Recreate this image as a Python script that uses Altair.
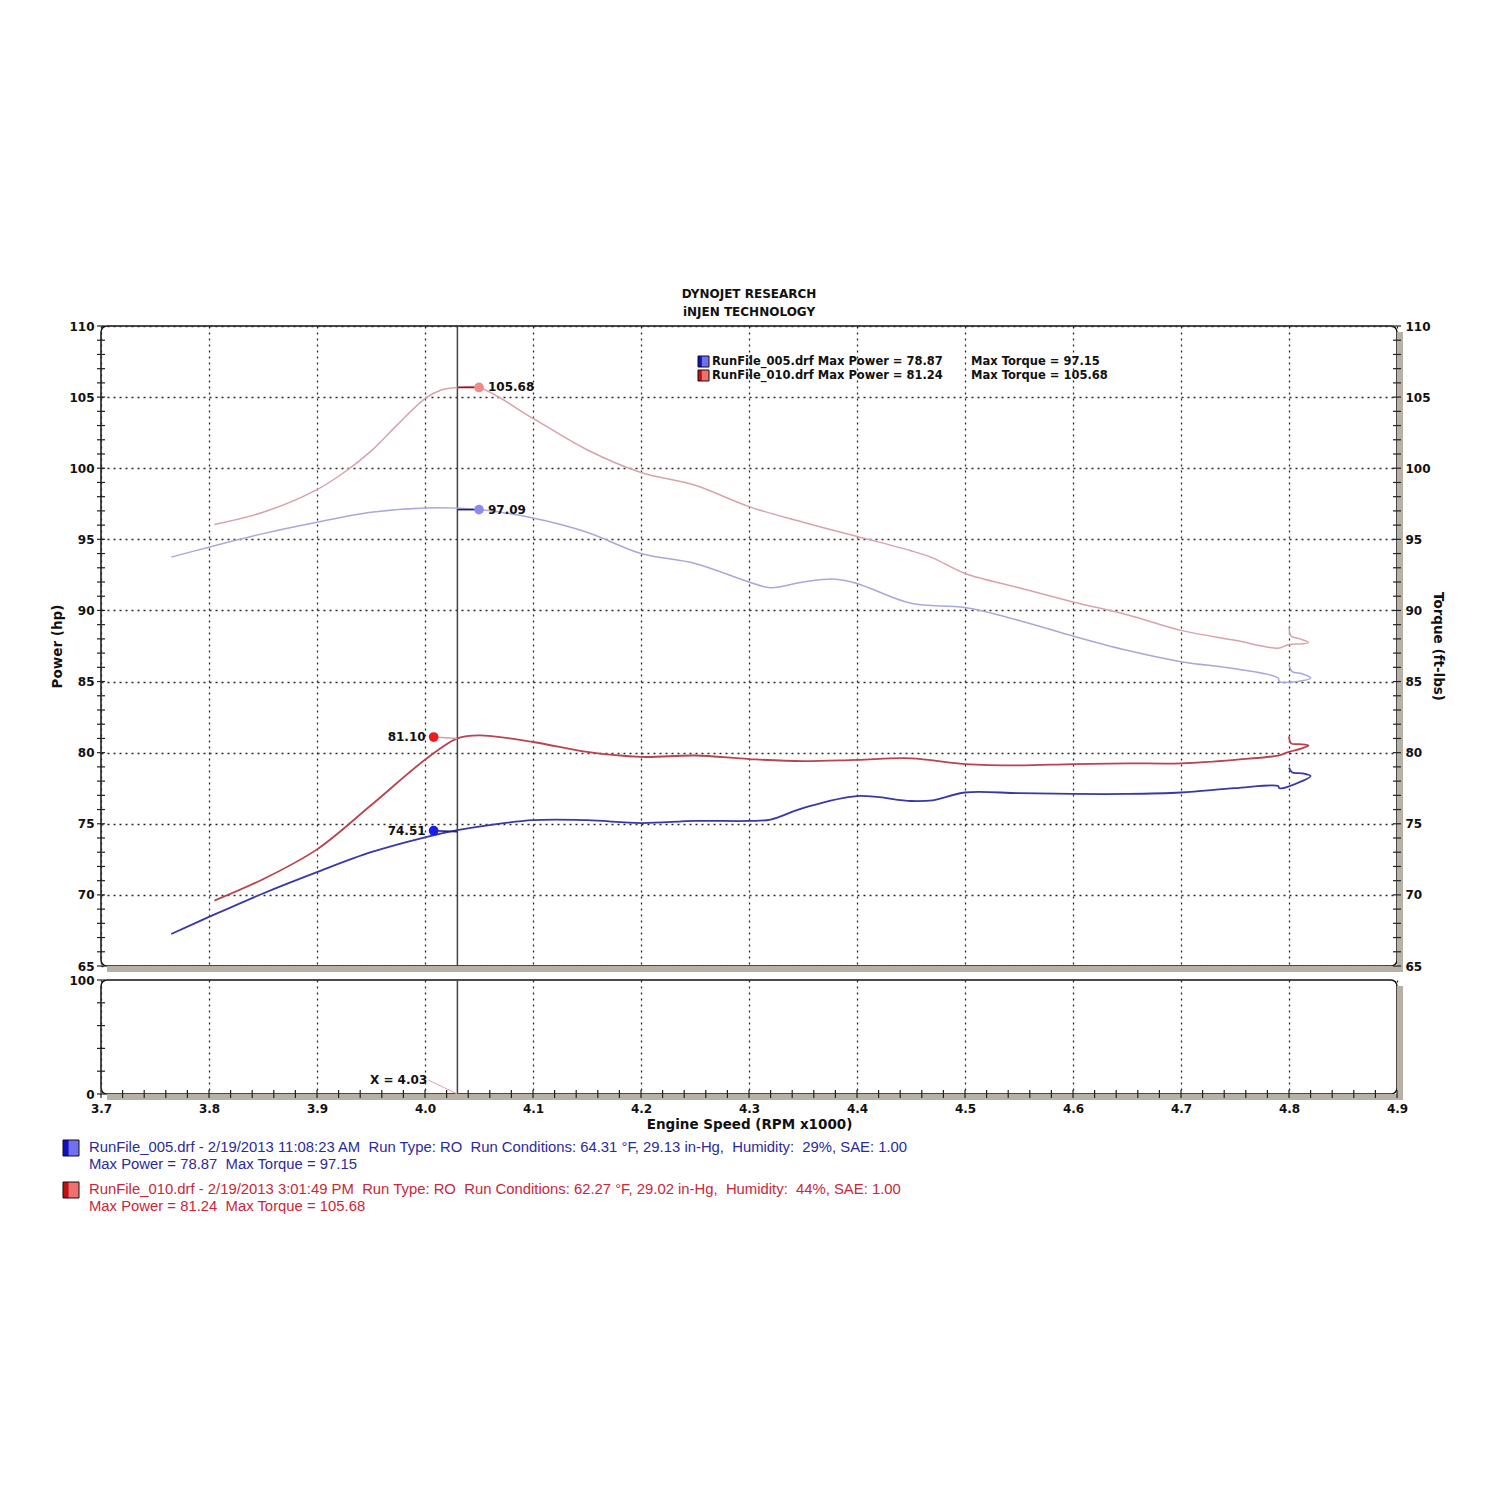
import altair as alt
import pandas as pd

# ------------------------------------------------------------------ data
# RunFile_005 (blue)
rpm_tq_005 = [3.765, 3.80, 3.85, 3.90, 3.95, 4.00, 4.05, 4.10, 4.15, 4.20, 4.25, 4.30, 4.32,
              4.35, 4.38, 4.40, 4.45, 4.50, 4.55, 4.60, 4.65, 4.70, 4.75, 4.79,
              4.791, 4.812, 4.820, 4.812, 4.803, 4.800]
tq_005 = [93.75, 94.45, 95.4, 96.2, 96.9, 97.2, 97.09, 96.5, 95.5, 94.0, 93.3, 92.0, 91.6,
          92.0, 92.2, 91.9, 90.5, 90.2, 89.3, 88.2, 87.2, 86.4, 85.9, 85.25,
          85.0, 85.05, 85.25, 85.55, 85.7, 86.2]
rpm_hp_005 = [3.765, 3.80, 3.85, 3.90, 3.95, 4.00, 4.03, 4.05, 4.10, 4.15, 4.20, 4.25, 4.30,
              4.32, 4.35, 4.40, 4.45, 4.47, 4.50, 4.55, 4.60, 4.65, 4.70, 4.75, 4.79,
              4.791, 4.812, 4.820, 4.812, 4.803, 4.800]
hp_005 = [67.25, 68.45, 70.1, 71.6, 73.0, 74.05, 74.55, 74.8, 75.25, 75.25, 75.05, 75.2, 75.2,
          75.3, 76.1, 76.95, 76.6, 76.65, 77.2, 77.15, 77.1, 77.1, 77.2, 77.5, 77.65,
          77.5, 78.0, 78.35, 78.55, 78.6, 78.95]

# RunFile_010 (red)
rpm_tq_010 = [3.805, 3.85, 3.90, 3.925, 3.95, 3.975, 4.00, 4.015, 4.03, 4.05, 4.10, 4.15, 4.20,
              4.25, 4.30, 4.35, 4.40, 4.45, 4.47, 4.50, 4.55, 4.60, 4.65, 4.70, 4.75, 4.79,
              4.800, 4.812, 4.818, 4.810, 4.802, 4.800]
tq_010 = [96.05, 96.9, 98.5, 99.7, 101.2, 103.1, 104.9, 105.5, 105.68, 105.68, 103.5, 101.3, 99.7,
          98.8, 97.3, 96.2, 95.2, 94.2, 93.7, 92.6, 91.6, 90.6, 89.7, 88.6, 87.9, 87.35,
          87.6, 87.65, 87.75, 88.0, 88.2, 88.8]
rpm_hp_010 = [3.805, 3.85, 3.90, 3.95, 4.00, 4.03, 4.05, 4.10, 4.15, 4.20, 4.25, 4.30, 4.35,
              4.40, 4.45, 4.50, 4.55, 4.60, 4.65, 4.70, 4.75, 4.79,
              4.800, 4.812, 4.818, 4.810, 4.802, 4.800]
hp_010 = [69.6, 71.1, 73.2, 76.3, 79.5, 81.0, 81.22, 80.75, 80.05, 79.7, 79.8, 79.55, 79.4,
          79.5, 79.6, 79.2, 79.1, 79.2, 79.25, 79.25, 79.5, 79.8,
          80.05, 80.3, 80.5, 80.6, 80.65, 81.15]

# cursor / peak markers
cursor_rpm = 4.03
peak_text = ["105.68", "97.09", "81.10", "74.51"]
peak_rpm = [4.05, 4.05, 4.008, 4.008]
peak_val = [105.68, 97.09, 81.10, 74.51]
seg_val_end = [105.68, 97.09, 81.0, 74.45]

# axis ticks / labels
x_major = [3.7, 3.8, 3.9, 4.0, 4.1, 4.2, 4.3, 4.4, 4.5, 4.6, 4.7, 4.8, 4.9]
x_minor = [round(3.7 + 0.02 * k, 2) for k in range(61)]
y_major = [65, 70, 75, 80, 85, 90, 95, 100, 105, 110]
y_minor = list(range(65, 111))
yb_labels = [0, 100]
yb_ticks = [0, 20, 40, 60, 80, 100]

title_lines = ["DYNOJET RESEARCH", "iNJEN TECHNOLOGY"]
legend_power = ["RunFile_005.drf Max Power = 78.87", "RunFile_010.drf Max Power = 81.24"]
legend_torque = ["Max Torque = 97.15", "Max Torque = 105.68"]
foot_005 = ["RunFile_005.drf - 2/19/2013 11:08:23 AM  Run Type: RO  Run Conditions: 64.31 \u00b0F, 29.13 in-Hg,  Humidity:  29%, SAE: 1.00",
            "Max Power = 78.87  Max Torque = 97.15"]
foot_010 = ["RunFile_010.drf - 2/19/2013 3:01:49 PM  Run Type: RO  Run Conditions: 62.27 \u00b0F, 29.02 in-Hg,  Humidity:  44%, SAE: 1.00",
            "Max Power = 81.24  Max Torque = 105.68"]
cursor_label = "X = 4.03"

# ------------------------------------------------------------------ style
W, H1, H2 = 1296, 640, 114
FONT = "DejaVu Sans"
SH = "#b7b1a5"
C_TQ_RED, C_TQ_BLUE = "#d9a2aa", "#a8a8da"
C_HP_RED, C_HP_BLUE = "#b9434f", "#3838a8"
T_BLUE, T_RED = "#2b2b9c", "#c8283a"
DOT_COLORS = ["#f28a8a", "#8a8af0", "#f01c1c", "#1c1cf0"]
SEG_COLORS = ["#9a1020", "#20206a", "#c9a3b3", "#22227a"]

one = pd.DataFrame({"k": [0]})


def keep_spaces(s):
    return s.replace("  ", "\u00a0 ")


def ldf(r, v):
    return pd.DataFrame({"rpm": r, "val": v, "i": list(range(len(r)))})


XS = alt.Scale(domain=[3.7, 4.9], nice=False, zero=False)
YS = alt.Scale(domain=[65, 110], nice=False, zero=False)
YB = alt.Scale(domain=[0, 100], nice=False, zero=False)

grid_kw = dict(grid=True, gridDash=[2, 4], gridColor="#2a2a2a", gridWidth=1.3, gridOpacity=1)

x_main = alt.X("rpm:Q", scale=XS,
               axis=alt.Axis(values=x_major, labels=False, ticks=False, domain=False, title=None, **grid_kw))
left_axis = alt.Axis(values=y_major, title="Power (hp)", titleFontSize=13.5, titlePadding=4,
                     labelFontSize=12, labelPadding=7, labelFlush=False, ticks=False, tickSize=0,
                     domain=False, **grid_kw)
right_axis = alt.Axis(orient="right", values=y_major, title="Torque (ft-lbs)", titleFontSize=13.5,
                      titlePadding=0, labelFontSize=12, labelPadding=8, labelFlush=False, ticks=False,
                      tickSize=0, domain=False, grid=False)
y_left = alt.Y("val:Q", scale=YS, axis=left_axis)
y_right = alt.Y("val:Q", scale=YS, axis=right_axis)


def txt(text, x, y, size, color="#111", align="left", weight="bold", font=FONT):
    return alt.Chart(one).mark_text(text=text, align=align, baseline="middle", fontSize=size,
                                    fontWeight=weight, font=font, color=color).encode(
        x=alt.value(x), y=alt.value(y))


def box(x, y, w, h, color, opacity=1):
    return alt.Chart(one).mark_rect(color=color, opacity=opacity).encode(
        x=alt.value(x), x2=alt.value(x + w), y=alt.value(y), y2=alt.value(y + h))


def swatch(x, y, s, dark, light):
    grad = alt.Gradient(gradient="linear", x1=0, x2=1, y1=0, y2=0,
                        stops=[alt.GradientStop(color=dark, offset=0),
                               alt.GradientStop(color=dark, offset=0.3),
                               alt.GradientStop(color=light, offset=0.4),
                               alt.GradientStop(color=light, offset=1)])
    return alt.Chart(one).mark_rect(color=grad, stroke="#111", strokeWidth=1).encode(
        x=alt.value(x), x2=alt.value(x + s), y=alt.value(y), y2=alt.value(y + s))


def curve(r, v, color, width, yenc):
    return alt.Chart(ldf(r, v)).mark_line(color=color, strokeWidth=width,
                                          interpolate="catmull-rom").encode(
        x=x_main, y=yenc, order="i:Q")


def shadow(h):
    return [box(W, 6, 6, h, SH), box(6, h, W, 6, SH)]


def peak_layers(k, yenc, side):
    d = pd.DataFrame({"rpm": [peak_rpm[k]], "val": [peak_val[k]], "t": [peak_text[k]],
                      "rpm0": [cursor_rpm], "val0": [seg_val_end[k]]})
    if side == "right":
        lab = alt.Chart(d).mark_text(align="left", baseline="middle", dx=9, fontSize=12,
                                     fontWeight="bold", font=FONT, color="#111")
    else:
        lab = alt.Chart(d).mark_text(align="right", baseline="middle", dx=-8, fontSize=12,
                                     fontWeight="bold", font=FONT, color="#111")
    return [
        alt.Chart(d).mark_rule(strokeWidth=1.6, color=SEG_COLORS[k]).encode(
            x=x_main, x2="rpm0:Q", y=yenc, y2="val0:Q"),
        alt.Chart(d).mark_circle(size=95, opacity=1, color=DOT_COLORS[k]).encode(x=x_main, y=yenc),
        lab.encode(x=x_main, y=yenc, text="t:N"),
    ]


# ------------------------------------------------------------------ main panel
ticks_y = pd.DataFrame({"val": y_minor})

left_layers = shadow(H1) + [
    # invisible anchors fixing the page frame
    box(-92, -317, 2, 2, "white", opacity=0),
    box(W + 80, H1, 2, 2, "white", opacity=0),
    alt.Chart(ticks_y).mark_rule(color="#222", strokeWidth=1.2).encode(
        y=y_left, x=alt.value(-4), x2=alt.value(4)),
    alt.Chart(ticks_y).mark_rule(color="#222", strokeWidth=1.2).encode(
        y=y_left, x=alt.value(W - 4), x2=alt.value(W + 4)),
    curve(rpm_hp_010, hp_010, C_HP_RED, 1.8, y_left),
    curve(rpm_hp_005, hp_005, C_HP_BLUE, 1.8, y_left),
    alt.Chart(pd.DataFrame({"rpm": [cursor_rpm]})).mark_rule(color="#444", strokeWidth=1.5).encode(x=x_main),
]
left_layers += peak_layers(2, y_left, "left") + peak_layers(3, y_left, "left")
left_layers += [
    txt(title_lines[0], W / 2, -32, 12, align="center"),
    txt(title_lines[1], W / 2, -14, 12, align="center"),
    swatch(597, 30, 11, "#1010c0", "#7070f0"),
    swatch(597, 44, 11, "#c01010", "#f07070"),
    txt(legend_power[0], 611, 36, 11.5),
    txt(legend_power[1], 611, 50, 11.5),
    txt(legend_torque[0], 870, 36, 11.5),
    txt(legend_torque[1], 870, 50, 11.5),
]

right_layers = [
    curve(rpm_tq_010, tq_010, C_TQ_RED, 1.5, y_right),
    curve(rpm_tq_005, tq_005, C_TQ_BLUE, 1.5, y_right),
] + peak_layers(0, y_right, "right") + peak_layers(1, y_right, "right")

main = alt.layer(alt.layer(*left_layers), alt.layer(*right_layers)).resolve_scale(
    y="independent").properties(width=W, height=H1)

# ------------------------------------------------------------------ bottom panel
x_bottom = alt.X("rpm:Q", scale=XS,
                 axis=alt.Axis(values=x_major, format=".1f", labelFlush=False, labelFontSize=12,
                               labelPadding=9, ticks=False, tickSize=0, domain=False,
                               title="Engine Speed (RPM x1000)", titleFontSize=13.5, titlePadding=3,
                               **grid_kw))
y_bottom = alt.Y("val:Q", scale=YB,
                 axis=alt.Axis(values=yb_labels, labelFlush=False, labelFontSize=12, labelPadding=7,
                               ticks=False, tickSize=0, domain=False, grid=False, title=None))

cursor_df = pd.DataFrame({"rpm": [4.003], "val": [12.3], "rpm2": [cursor_rpm], "val2": [0]})
FOOT = "Liberation Sans"
FS = 14.85

bottom_layers = shadow(H2) + [
    alt.Chart(pd.DataFrame({"rpm": x_minor})).mark_rule(color="#222", strokeWidth=1.2).encode(
        x=x_bottom, y=alt.value(H2 - 4), y2=alt.value(H2 + 4)),
    alt.Chart(pd.DataFrame({"val": yb_ticks})).mark_rule(color="#222", strokeWidth=1.2).encode(
        y=y_bottom, x=alt.value(-4), x2=alt.value(4)),
    alt.Chart(pd.DataFrame({"rpm": [cursor_rpm]})).mark_rule(color="#444", strokeWidth=1.5).encode(x=x_bottom),
    alt.Chart(cursor_df).mark_rule(color="#e0a0a8", strokeWidth=1).encode(
        x=x_bottom, x2="rpm2:Q", y=y_bottom, y2="val2:Q"),
    alt.Chart(cursor_df).mark_text(text=cursor_label, align="right", baseline="middle", dx=-1,
                                   fontSize=12, fontWeight="bold", font=FONT, color="#111").encode(
        x=x_bottom, y=y_bottom),
    swatch(-38, 160, 16, "#1010c0", "#7070f0"),
    swatch(-38, 202, 16, "#c01010", "#f07070"),
    txt(keep_spaces(foot_005[0]), -12, 168, FS, color=T_BLUE, weight="normal", font=FOOT),
    txt(keep_spaces(foot_005[1]), -12, 185, FS, color=T_BLUE, weight="normal", font=FOOT),
    txt(keep_spaces(foot_010[0]), -12, 210, FS, color=T_RED, weight="normal", font=FOOT),
    txt(keep_spaces(foot_010[1]), -12, 227, FS, color=T_RED, weight="normal", font=FOOT),
]
bottom = alt.layer(*bottom_layers).properties(width=W, height=H2)

chart = alt.vconcat(main, bottom, spacing=14, bounds="flush").properties(
    padding=0, background="white"
).configure_view(
    stroke="#111", strokeWidth=1.5, cornerRadius=6
).configure_axis(
    labelFont=FONT, titleFont=FONT, labelFontWeight="bold", titleFontWeight="bold",
    labelColor="#111", titleColor="#111"
)

chart.save("out.html", embed_options={"renderer": "svg", "actions": False})
